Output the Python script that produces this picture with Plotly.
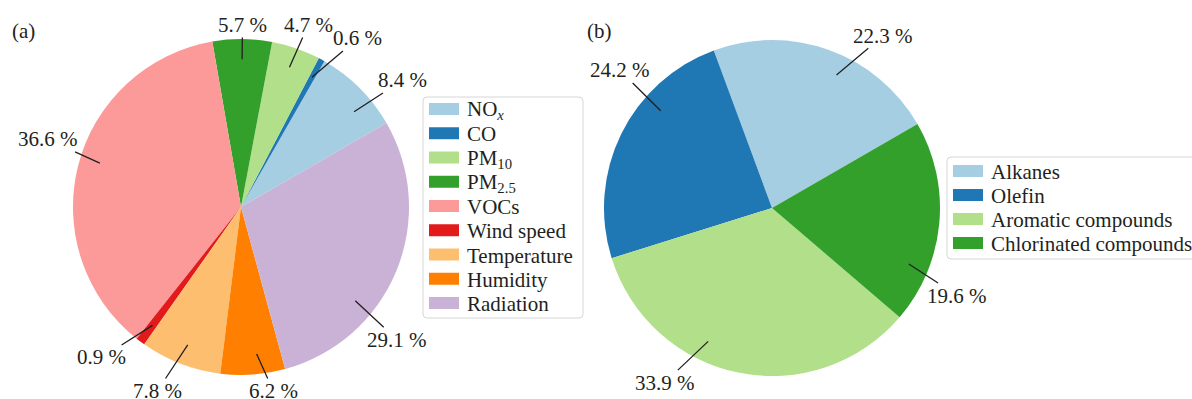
import math
import plotly.graph_objects as go

W, H = 1192, 399

# (a) share of each factor
factor_labels = ["NO<sub><i>x</i></sub>", "CO", "PM<sub>10</sub>", "PM<sub>2.5</sub>", "VOCs",
                 "Wind speed", "Temperature", "Humidity", "Radiation"]
factor_share = [8.4, 0.6, 4.7, 5.7, 36.6, 0.9, 7.8, 6.2, 29.1]

# (b) share of each VOC group
voc_labels = ["Alkanes", "Olefin", "Aromatic compounds", "Chlorinated compounds"]
voc_share = [22.3, 24.2, 33.9, 19.6]

factor_colors = ["#a6cee3", "#1f78b4", "#b2df8a", "#33a02c", "#fb9a99",
                 "#e31a1c", "#fdbf6f", "#ff7f00", "#cab2d6"]
voc_colors = ["#a6cee3", "#1f78b4", "#b2df8a", "#33a02c"]

# label placement: leader-line angle offset from the wedge middle, and
# text angle offset from the leader line (degrees)
factor_line_nudge = [-5, 0, 0, 0, -3, 0, 0, 2, -17]
factor_text_nudge = [-2, -6, 0, 0, -2, -6, -3, 3, -1]
voc_line_nudge = [-6, -15, -14, -17]
voc_text_nudge = [-7, -1, -6, -3]

INK = "#231f20"
FONT = "Liberation Serif, Times New Roman, serif"
FS = 21
START_DEG = 30      # first wedge starts at 30 deg (from 3 o'clock), counterclockwise
R = 168
PIE_A = (241, 207)
PIE_B = (772, 208)
TEXT_Y_LIMITS = (25, 391)


def px(x):
    return x / W


def py(y):
    return 1 - y / H


def domain(c):
    cx, cy = c
    return dict(x=[px(cx - R), px(cx + R)], y=[py(cy + R), py(cy - R)])


fig = go.Figure()
for vals, labs, cols, cen in [(factor_share, factor_labels, factor_colors, PIE_A),
                              (voc_share, voc_labels, voc_colors, PIE_B)]:
    # counterclockwise pies put the clockwise edge of the first slice at
    # `rotation`, so offset by the first slice's sweep
    first_sweep = 360.0 * vals[0] / sum(vals)
    fig.add_trace(go.Pie(
        values=vals, labels=labs, sort=False, direction="counterclockwise",
        rotation=90 - START_DEG - first_sweep, textinfo="none", showlegend=False,
        marker=dict(colors=cols, line=dict(width=0)),
        domain=domain(cen),
    ))


def add_pct_labels(values, line_nudge, text_nudge, cen):
    cx, cy = cen
    total = sum(values)
    ang = START_DEG
    for v, ln, tn in zip(values, line_nudge, text_nudge):
        span = 360.0 * v / total
        la = math.radians(ang + span / 2 + ln)
        ta = la + math.radians(tn)
        ang += span
        x_in = cx + 0.88 * R * math.cos(la)
        y_in = cy - 0.88 * R * math.sin(la)
        tx = cx + 1.22 * R * math.cos(ta)
        ty = cy - 1.22 * R * math.sin(ta)
        ty = min(max(ty, TEXT_Y_LIMITS[0]), TEXT_Y_LIMITS[1])
        fig.add_annotation(
            x=px(x_in), y=py(y_in), xref="paper", yref="paper",
            ax=tx - x_in, ay=ty - y_in, text=f"{v:.1f} %", showarrow=True,
            arrowhead=0, arrowwidth=1.3, arrowcolor=INK, borderpad=0,
            font=dict(family=FONT, size=FS, color=INK),
        )


add_pct_labels(factor_share, factor_line_nudge, factor_text_nudge, PIE_A)
add_pct_labels(voc_share, voc_line_nudge, voc_text_nudge, PIE_B)


def add_legend(labels, colors, box, first, step):
    x0, y0, x1, y1 = box
    rr = 4
    path = (f"M{px(x0 + rr)},{py(y0)} L{px(x1 - rr)},{py(y0)} "
            f"Q{px(x1)},{py(y0)} {px(x1)},{py(y0 + rr)} "
            f"L{px(x1)},{py(y1 - rr)} Q{px(x1)},{py(y1)} {px(x1 - rr)},{py(y1)} "
            f"L{px(x0 + rr)},{py(y1)} Q{px(x0)},{py(y1)} {px(x0)},{py(y1 - rr)} "
            f"L{px(x0)},{py(y0 + rr)} Q{px(x0)},{py(y0)} {px(x0 + rr)},{py(y0)} Z")
    fig.add_shape(type="path", path=path, xref="paper", yref="paper",
                  line=dict(color="#d6d6d6", width=1), fillcolor="white")
    for i, (lab, col) in enumerate(zip(labels, colors)):
        yc = first + i * step
        fig.add_shape(type="rect", xref="paper", yref="paper",
                      x0=px(x0 + 6), x1=px(x0 + 36), y0=py(yc + 6), y1=py(yc - 6),
                      line=dict(width=0), fillcolor=col)
        fig.add_annotation(x=px(x0 + 42), y=py(yc + 1), xref="paper", yref="paper",
                           text=lab, showarrow=False, xanchor="left", yanchor="middle",
                           font=dict(family=FONT, size=FS, color=INK))


add_legend(factor_labels, factor_colors, (423, 97, 583, 318), 109, 24.25)
add_legend(voc_labels, voc_colors, (947, 157, 1205, 259), 171, 24)

for tag, (x, y) in [("(a)", (23, 31)), ("(b)", (599, 31))]:
    fig.add_annotation(x=px(x), y=py(y), xref="paper", yref="paper", text=tag,
                       showarrow=False, xanchor="center", yanchor="middle",
                       font=dict(family=FONT, size=FS, color=INK))

fig.update_layout(
    width=W, height=H, margin=dict(l=0, r=0, t=0, b=0),
    paper_bgcolor="white", plot_bgcolor="white",
)

fig.write_html("out.html")
